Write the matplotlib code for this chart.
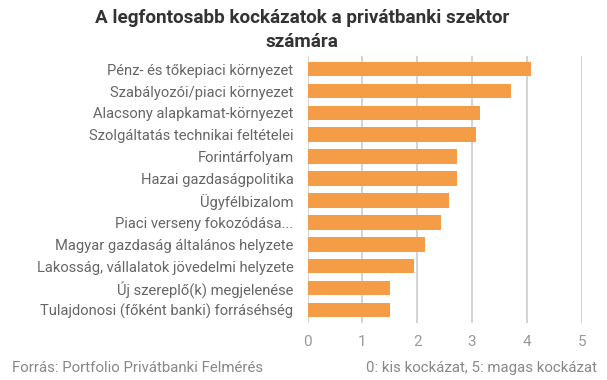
import matplotlib
matplotlib.use("Agg")
import matplotlib.pyplot as plt

categories = [
    "Pénz- és tőkepiaci környezet",
    "Szabályozói/piaci környezet",
    "Alacsony alapkamat-környezet",
    "Szolgáltatás technikai feltételei",
    "Forintárfolyam",
    "Hazai gazdaságpolitika",
    "Ügyfélbizalom",
    "Piaci verseny fokozódása...",
    "Magyar gazdaság általános helyzete",
    "Lakosság, vállalatok jövedelmi helyzete",
    "Új szereplő(k) megjelenése",
    "Tulajdonosi (főként banki) forráséhség",
]
values = [4.08, 3.71, 3.15, 3.07, 2.73, 2.73, 2.58, 2.44, 2.14, 1.94, 1.51, 1.51]
xticks = [0, 1, 2, 3, 4, 5]

plt.rcParams['font.family'] = ['Roboto', 'DejaVu Sans']

fig = plt.figure(figsize=(6.07, 3.80), dpi=100)
ax = fig.add_axes([0.5066, 0.15, 0.4517, 0.7026])

pos = list(range(len(categories)))[::-1]
ax.barh(pos, values, height=0.67, color="#F59C46", zorder=2)
ax.set_xlim(0, 5)
ax.set_ylim(-0.6, len(categories) - 0.4)
ax.set_xticks(xticks)
ax.set_yticks(pos)
ax.set_yticklabels(categories)
ax.grid(axis="x", color="#CCCCCC", linewidth=1.2, zorder=0)
for s in ax.spines.values():
    s.set_visible(False)
ax.tick_params(axis="both", length=0)
ax.tick_params(axis="x", pad=9, labelsize=11, labelcolor="#999999")
ax.tick_params(axis="y", pad=10, labelsize=10.6, labelcolor="#666666")

title_lines = ["A legfontosabb kockázatok a privátbanki szektor", "számára"]
fig.text(0.498, 1 - 23 / 380, title_lines[0], ha="center", va="baseline",
         fontsize=13.6, fontweight="bold", color="#333333")
fig.text(0.498, 1 - 47 / 380, title_lines[1], ha="center", va="baseline",
         fontsize=13.6, fontweight="bold", color="#333333")
fig.text(0.019, 1 - 372 / 380, "Forrás: Portfolio Privátbanki Felmérés", fontsize=10.8,
         color="#888888", ha="left", va="baseline")
fig.text(0.983, 1 - 372 / 380, "0: kis kockázat, 5: magas kockázat", fontsize=10.8,
         color="#888888", ha="right", va="baseline")

fig.savefig("out.png", dpi=100)
